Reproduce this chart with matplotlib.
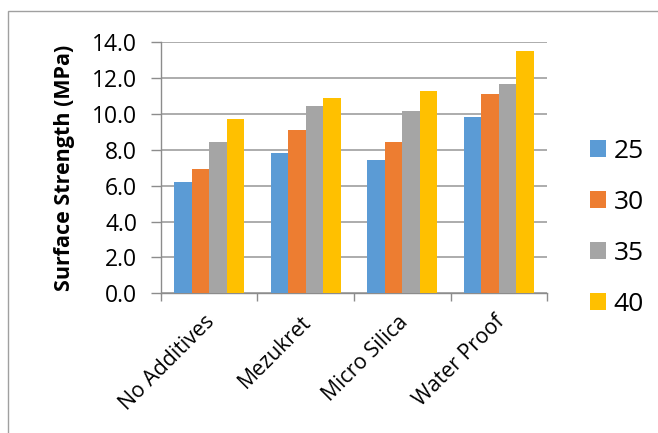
import matplotlib
matplotlib.use("Agg")
import matplotlib.pyplot as plt
import numpy as np
import matplotlib.transforms as mtransforms
from matplotlib.patches import Rectangle

categories = ["No Additives", "Mezukret", "Micro Silica", "Water Proof"]
series_names = ["25", "30", "35", "40"]
s25 = [6.22, 7.83, 7.43, 9.80]
s30 = [6.92, 9.10, 8.41, 11.12]
s35 = [8.45, 10.42, 10.14, 11.64]
s40 = [9.69, 10.86, 11.27, 13.52]
yticks = [0, 2, 4, 6, 8, 10, 12, 14]
ytick_labels = ["0.0", "2.0", "4.0", "6.0", "8.0", "10.0", "12.0", "14.0"]

colors = ["#5B9BD5", "#ED7D31", "#A5A5A5", "#FFC000"]
plt.rcParams['font.family'] = ['Open Sans', 'DejaVu Sans']

W, H = 658, 433
fig = plt.figure(figsize=(W / 100, H / 100), dpi=100)
ax = fig.add_axes([160.7 / W, 1 - 293.3 / H, (547.3 - 160.7) / W, (293.3 - 42) / H])

# outer chart border
fig.patches.append(Rectangle((8 / W, -0.1), 1.2, 1 - 11 / H + 0.1, transform=fig.transFigure,
                             fill=False, edgecolor="#A0A0A0", linewidth=1.0))

x = np.arange(len(categories))
bw = 0.181
data = [s25, s30, s35, s40]
for i, (vals, name) in enumerate(zip(data, series_names)):
    ax.bar(x + (i - 1.5) * bw, vals, width=bw, color=colors[i], label=name, zorder=3)

ax.set_xlim(-0.5, len(categories) - 0.5)
ax.set_ylim(0, 14)
ax.set_yticks(yticks)
ax.set_yticklabels(ytick_labels, fontsize=16.5)
ax.yaxis.grid(True, color="#A6A6A6", linewidth=1.3, zorder=0)
ax.set_axisbelow(True)
ax.tick_params(axis='y', length=7, width=1, color="#8C8C8C", pad=10)

ax.set_xticks(x)
ax.set_xticklabels(categories, rotation=45, ha='right', rotation_mode='anchor', fontsize=15.3)
ax.set_xticks(np.arange(-0.5, len(categories)), minor=True)
ax.tick_params(axis='x', which='major', length=0, pad=13)
ax.tick_params(axis='x', which='minor', length=6, width=1, color="#8C8C8C")
offset = mtransforms.ScaledTranslation(-5 / 100, 0, fig.dpi_scale_trans)
for lbl in ax.get_xticklabels():
    lbl.set_transform(lbl.get_transform() + offset)

for side in ['top', 'right']:
    ax.spines[side].set_visible(False)
ax.spines['left'].set_color("#8C8C8C")
ax.spines['bottom'].set_color("#8C8C8C")
ax.spines['left'].set_linewidth(1.0)
ax.spines['bottom'].set_linewidth(1.0)

ax.set_ylabel("Surface Strength (MPa)", fontsize=15.5, fontweight='bold', labelpad=12)

leg = ax.legend(loc='upper left', bbox_to_anchor=(590 / W, 1 - 139 / H), bbox_transform=fig.transFigure,
                frameon=False, fontsize=19, handlelength=0.6, handleheight=0.6, handletextpad=0.3,
                labelspacing=0.98, borderpad=0, borderaxespad=0)

fig.savefig("out.png", dpi=100)
